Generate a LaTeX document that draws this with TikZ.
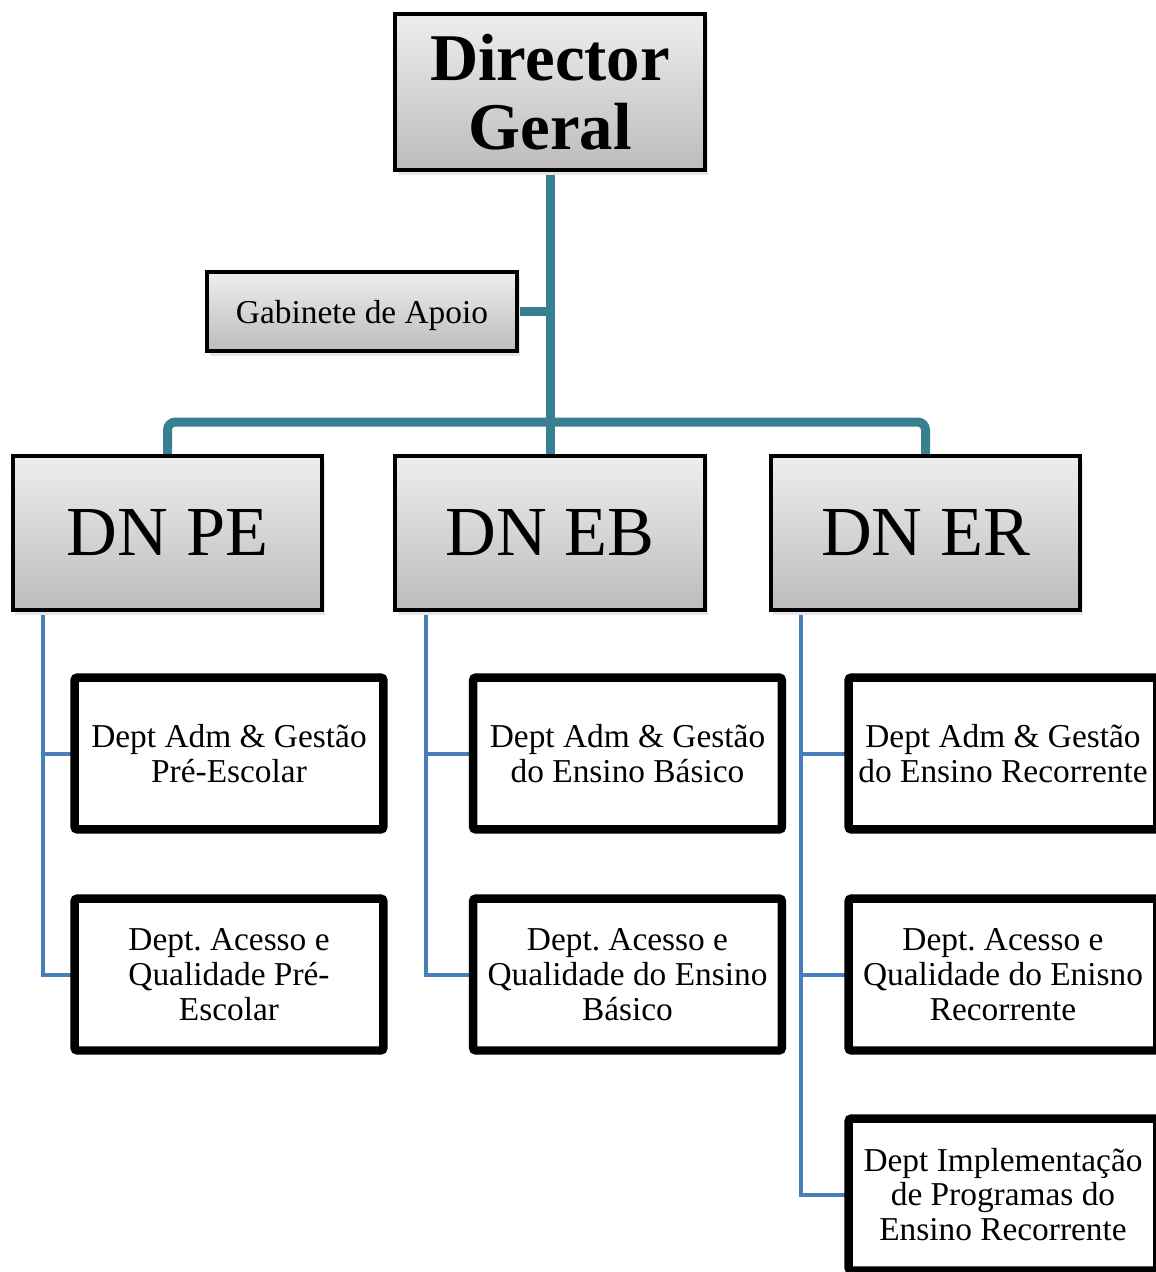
\documentclass[tikz,border=0pt]{standalone}
\usepackage{fontspec}
\setmainfont{Liberation Serif}
\usetikzlibrary{backgrounds,shadows}
\frenchspacing

\definecolor{trunk}{RGB}{56,127,145}
\definecolor{branch}{RGB}{74,126,187}
\definecolor{shadetop}{RGB}{238,238,238}
\definecolor{shadebot}{RGB}{188,188,188}

\tikzset{
  headbox/.style={draw=black, line width=0.08cm, top color=shadetop, bottom color=shadebot,
    minimum width=6.2cm, align=center, inner sep=0pt, outer sep=0pt,
    general shadow={fill=black!10, shadow xshift=1.5pt, shadow yshift=-3pt}},
  deptbox/.style={draw=black, line width=0.17cm, fill=white, rounded corners=1.7pt,
    minimum width=6.18cm, minimum height=3.04cm, align=center, inner sep=0pt, outer sep=0pt,
    font=\fontsize{19}{19.8}\selectfont},
  trunkline/.style={draw=trunk, line width=0.18cm, rounded corners=0.16cm},
  branchline/.style={draw=branch, line width=0.08cm},
}

\begin{document}
\begin{tikzpicture}[x=0.02cm, y=-0.02cm]
  \useasboundingbox (0,0) rectangle (1156,1272);
  \clip (0,0) rectangle (1156,1272);

  % top management
  \node[headbox, minimum height=3.12cm, font=\fontsize{38}{39.3}\selectfont\bfseries] (dg) at (550,92) {Director\\Geral};
  \node[headbox, minimum height=1.58cm, text height=18pt, text depth=4.2pt, font=\fontsize{19}{21}\selectfont] (gab) at (362,311.5) {Gabinete de Apoio};

  % national directorates
  \node[headbox, minimum height=3.08cm, font=\fontsize{40}{42}\selectfont] (dnpe) at (167.5,533) {DN PE};
  \node[headbox, minimum height=3.08cm, font=\fontsize{40}{42}\selectfont] (dneb) at (550,533) {DN EB};
  \node[headbox, minimum height=3.08cm, font=\fontsize{40}{42}\selectfont] (dner) at (925.5,533) {DN ER};

  % departments
  \node[deptbox] (pe1) at (229,753.5) {Dept Adm \& Gestão\\Pré-Escolar};
  \node[deptbox] (pe2) at (229,974.5) {Dept. Acesso e\\Qualidade Pré-\\Escolar};
  \node[deptbox] (eb1) at (627.5,753.5) {Dept Adm \& Gestão\\do Ensino Básico};
  \node[deptbox] (eb2) at (627.5,974.5) {Dept. Acesso e\\Qualidade do Ensino\\Básico};
  \node[deptbox] (er1) at (1003,753.5) {Dept Adm \& Gestão\\do Ensino Recorrente};
  \node[deptbox] (er2) at (1003,974.5) {Dept. Acesso e\\Qualidade do Enisno\\Recorrente};
  \node[deptbox] (er3) at (1003,1194.5) {Dept Implementação\\de Programas do\\Ensino Recorrente};

  \begin{scope}[on background layer]
    \fill[white] (0,0) rectangle (1156,1272);

    % main hierarchy
    \draw[trunkline] (dg.south) -- (dneb.north);
    \draw[trunkline] (gab.east) -- (gab.east -| dg.south);
    \draw[trunkline] (dnpe.north) -- (dnpe.north |- 0,422) -- (dner.north |- 0,422) -- (dner.north);

    % department branches
    \draw[branchline] (43,0 |- dnpe.south) |- (pe2.west);
    \draw[branchline] (43,0 |- pe1.west) -- (pe1.west);
    \draw[branchline] (426,0 |- dneb.south) |- (eb2.west);
    \draw[branchline] (426,0 |- eb1.west) -- (eb1.west);
    \draw[branchline] (801,0 |- dner.south) |- (er3.west);
    \draw[branchline] (801,0 |- er1.west) -- (er1.west);
    \draw[branchline] (801,0 |- er2.west) -- (er2.west);
  \end{scope}
\end{tikzpicture}
\end{document}
